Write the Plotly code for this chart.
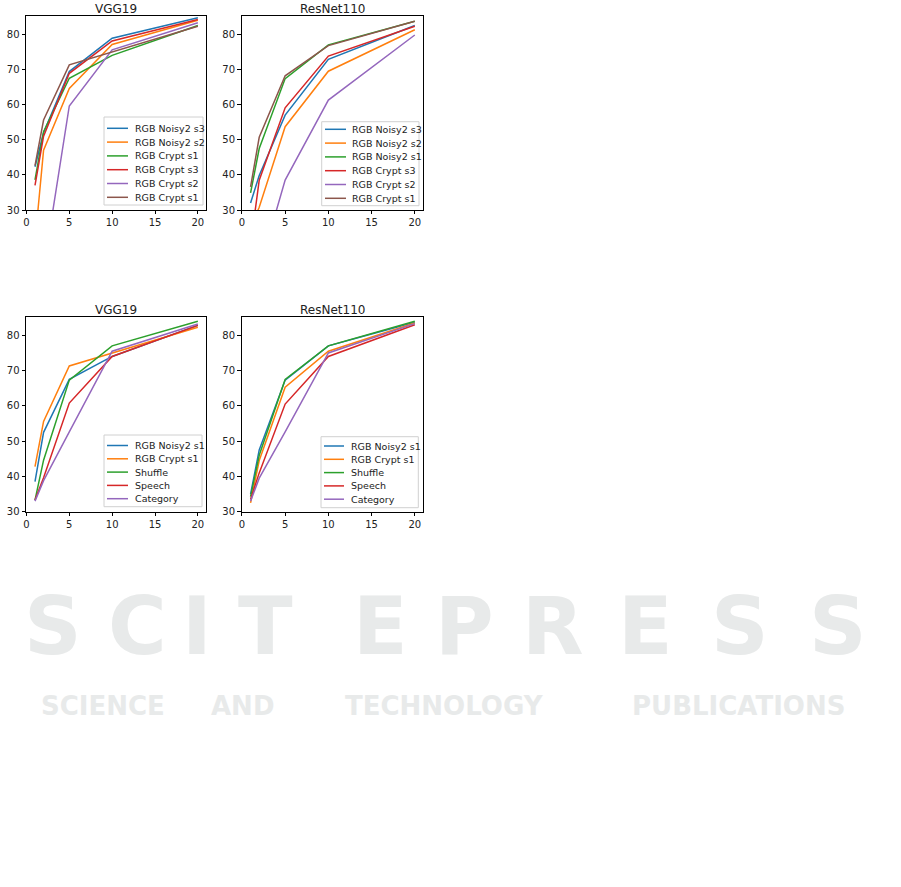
import plotly.graph_objects as go

# x positions shared by every curve
epochs = [1, 2, 5, 10, 20]

# top row: VGG19
vgg_top_names = ['RGB Noisy2 s3', 'RGB Noisy2 s2', 'RGB Crypt s1', 'RGB Crypt s3', 'RGB Crypt s2', 'RGB Crypt s1']
vgg_noisy2_s3 = [42.3, 52.0, 69.4, 78.9, 84.7]
vgg_noisy2_s2 = [21.0, 47.0, 64.6, 77.1, 84.0]
vgg_crypt_s1 = [38.6, 52.3, 67.5, 74.0, 82.5]
vgg_crypt_s3 = [37.0, 51.0, 68.9, 78.1, 84.2]
vgg_crypt_s2 = [10.0, 13.0, 59.6, 75.6, 83.3]
vgg_crypt_s1b = [42.6, 55.6, 71.3, 75.0, 82.3]

# top row: ResNet110
res_top_names = ['RGB Noisy2 s3', 'RGB Noisy2 s2', 'RGB Noisy2 s1', 'RGB Crypt s3', 'RGB Crypt s2', 'RGB Crypt s1']
res_noisy2_s3 = [32.0, 39.8, 57.0, 72.9, 82.5]
res_noisy2_s2 = [25.0, 30.8, 53.7, 69.5, 81.3]
res_noisy2_s1 = [34.9, 47.5, 67.4, 77.0, 83.7]
res_crypt_s3 = [20.0, 38.5, 59.1, 73.8, 82.3]
res_crypt_s2 = [10.0, 13.0, 38.5, 61.3, 79.8]
res_crypt_s1 = [36.6, 50.7, 68.2, 76.8, 83.7]

# bottom row
bottom_names = ['RGB Noisy2 s1', 'RGB Crypt s1', 'Shuffle', 'Speech', 'Category']
vgg_b_noisy2_s1 = [38.5, 52.5, 67.5, 74.0, 82.8]
vgg_b_crypt_s1 = [42.8, 55.6, 71.3, 75.0, 82.3]
vgg_b_shuffle = [33.3, 44.6, 67.3, 77.0, 84.0]
vgg_b_speech = [33.3, 39.6, 60.8, 74.0, 82.8]
vgg_b_category = [33.0, 38.8, 52.6, 75.5, 83.2]

res_b_noisy2_s1 = [35.0, 47.5, 67.3, 77.0, 83.7]
res_b_crypt_s1 = [32.5, 44.5, 65.3, 75.5, 83.5]
res_b_shuffle = [34.3, 46.0, 67.5, 77.0, 84.0]
res_b_speech = [33.5, 41.0, 60.5, 74.0, 83.0]
res_b_category = [33.0, 39.5, 52.6, 75.0, 83.3]

colours_top = ['#1f77b4', '#ff7f0e', '#2ca02c', '#d62728', '#9467bd', '#8c564b']
colours_bottom = ['#1f77b4', '#ff7f0e', '#2ca02c', '#d62728', '#9467bd']

W, H = 901, 887
FONT = 'DejaVu Sans'


def px_x(p):
    return p / W


def px_y(p):
    return 1 - p / H


panels = [
    # suffix, title, names, series, colours, x px range, y px range, y range, title y,
    # legend box (left, top, right, bottom), first row y, row step, sample x0, x1, text x
    ('', 'VGG19', vgg_top_names,
     [vgg_noisy2_s3, vgg_noisy2_s2, vgg_crypt_s1, vgg_crypt_s3, vgg_crypt_s2, vgg_crypt_s1b],
     colours_top, (26, 206), (15.7, 210), [30, 85.3], 8.5,
     (104, 117, 203, 205), 128.3, 13.8, 107, 128, 133),
    ('2', 'ResNet110', res_top_names,
     [res_noisy2_s3, res_noisy2_s2, res_noisy2_s1, res_crypt_s3, res_crypt_s2, res_crypt_s1],
     colours_top, (241.5, 423), (15.7, 210), [30, 85.3], 8.5,
     (321.7, 121.7, 419, 205.7), 129.3, 13.8, 325, 346, 350),
    ('3', 'VGG19', bottom_names,
     [vgg_b_noisy2_s1, vgg_b_crypt_s1, vgg_b_shuffle, vgg_b_speech, vgg_b_category],
     colours_bottom, (26, 206), (317.3, 511.7), [30, 85.1], 309.5,
     (104, 435, 202, 506.7), 445.5, 13.3, 107, 128, 133),
    ('4', 'ResNet110', bottom_names,
     [res_b_noisy2_s1, res_b_crypt_s1, res_b_shuffle, res_b_speech, res_b_category],
     colours_bottom, (241.5, 423), (317.3, 511.7), [30, 85.1], 309.5,
     (321, 436.7, 418.3, 507.7), 446, 13.3, 324, 344, 349),
]

fig = go.Figure()
layout = {}
annotations = []
shapes = []

for (suffix, title, names, series, colours, xr, yr, yrange, title_y,
     box, row0, step, sx0, sx1, tx) in panels:
    for name, vals, col in zip(names, series, colours):
        fig.add_trace(go.Scatter(
            x=epochs, y=vals, mode='lines', name=name,
            line=dict(color=col, width=1.5),
            xaxis='x' + suffix, yaxis='y' + suffix,
            showlegend=False,
        ))
    axis_common = dict(
        showgrid=False, zeroline=False, showline=True, mirror=True,
        linecolor='black', linewidth=0.8, ticks='outside', ticklen=3.5,
        tickwidth=0.8, tickcolor='black', automargin=False,
        tickfont=dict(family=FONT, size=10, color='#222222'),
    )
    layout['xaxis' + suffix] = dict(
        axis_common, domain=[px_x(xr[0]), px_x(xr[1])],
        range=[-0.05, 20.95], tickvals=[0, 5, 10, 15, 20],
        anchor='y' + suffix,
    )
    layout['yaxis' + suffix] = dict(
        axis_common, domain=[px_y(yr[1]), px_y(yr[0])],
        range=yrange, tickvals=[30, 40, 50, 60, 70, 80],
        anchor='x' + suffix,
    )
    annotations.append(dict(
        text=title, x=px_x((xr[0] + xr[1]) / 2), y=px_y(title_y),
        xref='paper', yref='paper', xanchor='center', yanchor='middle',
        showarrow=False, font=dict(family=FONT, size=12, color='#222222'),
    ))

    # legend frame drawn like matplotlib's
    shapes.append(dict(
        type='rect', xref='paper', yref='paper', layer='above',
        x0=px_x(box[0]), x1=px_x(box[2]), y0=px_y(box[3]), y1=px_y(box[1]),
        line=dict(color='#d0d0d0', width=1), fillcolor='rgba(255,255,255,0.85)',
    ))
    for i, (name, col) in enumerate(zip(names, colours)):
        ry = row0 + i * step
        shapes.append(dict(
            type='line', xref='paper', yref='paper', layer='above',
            x0=px_x(sx0), x1=px_x(sx1), y0=px_y(ry), y1=px_y(ry),
            line=dict(color=col, width=1.5),
        ))
        annotations.append(dict(
            text=name, x=px_x(tx), y=px_y(ry), xref='paper', yref='paper',
            xanchor='left', yanchor='middle', showarrow=False,
            font=dict(family=FONT, size=9.5, color='#222222'),
        ))

# faint publisher watermark
wm_letters = ['S', 'C', 'I', 'T', 'E', 'P', 'R', 'E', 'S', 'S']
wm_centres = [53, 137, 197, 265, 380, 465, 553, 645, 740, 838]
for ch, cx in zip(wm_letters, wm_centres):
    annotations.append(dict(
        text=ch, x=px_x(cx), y=px_y(626), xref='paper', yref='paper',
        xanchor='center', yanchor='middle', showarrow=False,
        font=dict(family=FONT, size=80, color='#e8eaea', weight='bold'),
    ))
wm_words = ['SCIENCE', 'AND', 'TECHNOLOGY', 'PUBLICATIONS']
wm_word_centres = [103, 242, 444, 738]
for word, cx in zip(wm_words, wm_word_centres):
    annotations.append(dict(
        text=word, x=px_x(cx), y=px_y(706), xref='paper', yref='paper',
        xanchor='center', yanchor='middle', showarrow=False,
        font=dict(family=FONT, size=26, color='#e8eaea', weight='bold'),
    ))

fig.update_layout(
    **layout,
    annotations=annotations,
    shapes=shapes,
    width=W, height=H,
    margin=dict(l=0, r=0, t=0, b=0),
    paper_bgcolor='white', plot_bgcolor='white',
    showlegend=False,
    template='none',
)

# drop the browser's default body margin so the figure sits at the page corner
fig.write_html("out.html", config={'displayModeBar': False},
               post_script="document.body.style.margin = '0';")
